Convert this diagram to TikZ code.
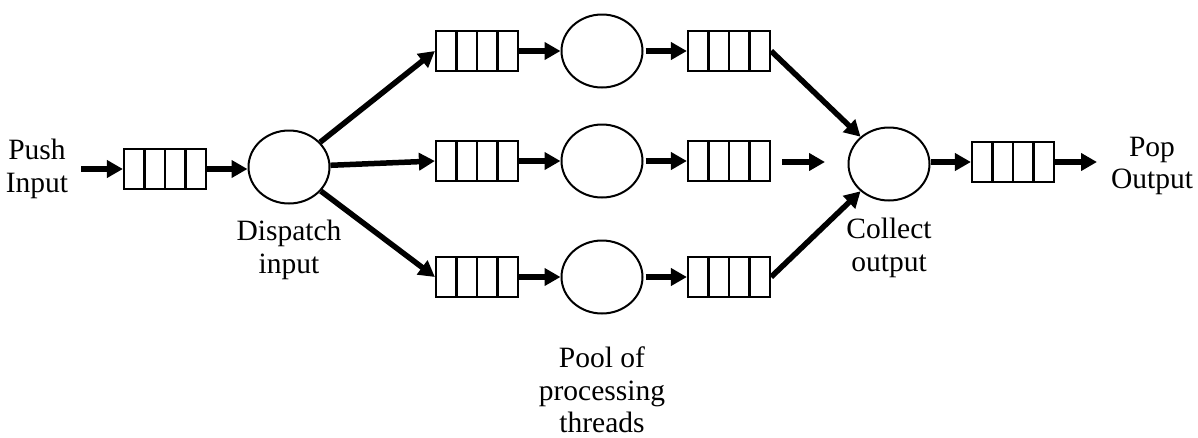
\documentclass[tikz,border=0pt]{standalone}
\usepackage{fontspec}
\setmainfont{Liberation Serif}
\usetikzlibrary{shapes.geometric,arrows.meta,calc}
\tikzset{
  qbox/.style={draw, line width=2.2pt, minimum width=82pt, minimum height=40pt, inner sep=0pt,
    path picture={\foreach \f in {0.25,0.5,0.75}{\draw[line width=2.6pt]
      ($(path picture bounding box.south west)!\f!(path picture bounding box.south east)$) --
      ($(path picture bounding box.north west)!\f!(path picture bounding box.north east)$);}}},
  proc/.style={draw, ellipse, line width=2pt, minimum width=81pt, minimum height=73pt, inner sep=0pt},
  flow/.style={line width=5.5pt, -{Triangle[length=16pt,width=17pt]}},
  lbl/.style={align=center, font=\fontsize{29.5}{32.5}\selectfont, inner sep=0pt}
}
\begin{document}
\begin{tikzpicture}[x=1pt,y=-1pt]
\useasboundingbox (0,0) rectangle (1198,437);
% input
\node[lbl] (pushlbl) at (37,169) {Push\\Input};
\coordinate (pushstart) at (81,169);
\node[qbox] (q0) at (165,169) {};
\node[proc] (d) at (289,167) {};
\node[lbl] (dlbl) at (289,250) {Dispatch\\input};
% top row
\node[qbox] (qa1) at (477,51) {};
\node[proc] (pa) at (602,51) {};
\node[qbox] (qa2) at (729,51) {};
% middle row
\node[qbox] (qb1) at (477,161) {};
\node[proc] (pb) at (602,161) {};
\node[qbox] (qb2) at (729,161) {};
\coordinate (mfree1) at (782,162);
\coordinate (mfree2) at (825,162);
% bottom row
\node[qbox] (qc1) at (477,277) {};
\node[proc] (pc) at (602,277) {};
\node[qbox] (qc2) at (729,277) {};
\node[lbl] (poollbl) at (602,390) {Pool of\\processing\\threads};
% collect
\node[proc] (c) at (889,164) {};
\node[lbl] (clbl) at (889,248) {Collect\\output};
\node[qbox] (qo) at (1013,162) {};
\coordinate (popend) at (1097,162);
\node[lbl] (poplbl) at (1152,166) {Pop\\Output};
% connectors
\draw[flow] (pushstart) -- (q0.west);
\draw[flow] (q0.east) -- (d.west |- q0.east);
\draw[flow] (d) -- (qa1.west);
\draw[flow] (d) -- (qb1.west);
\draw[flow] (d) -- (qc1.west);
\draw[flow] (qa1.east) -- (pa.west);
\draw[flow] ([xshift=2pt]pa.east) -- (qa2.west);
\draw[flow] (qb1.east) -- (pb.west);
\draw[flow] ([xshift=2pt]pb.east) -- (qb2.west);
\draw[flow] (mfree1) -- (mfree2);
\draw[flow] (qc1.east) -- (pc.west);
\draw[flow] ([xshift=2pt]pc.east) -- (qc2.west);
\draw[flow] (qa2.east) -- (c);
\draw[flow] (qc2.east) -- (c);
\draw[flow] (c.east |- qo.west) -- (qo.west);
\draw[flow] (qo.east) -- (popend);
\end{tikzpicture}
\end{document}
